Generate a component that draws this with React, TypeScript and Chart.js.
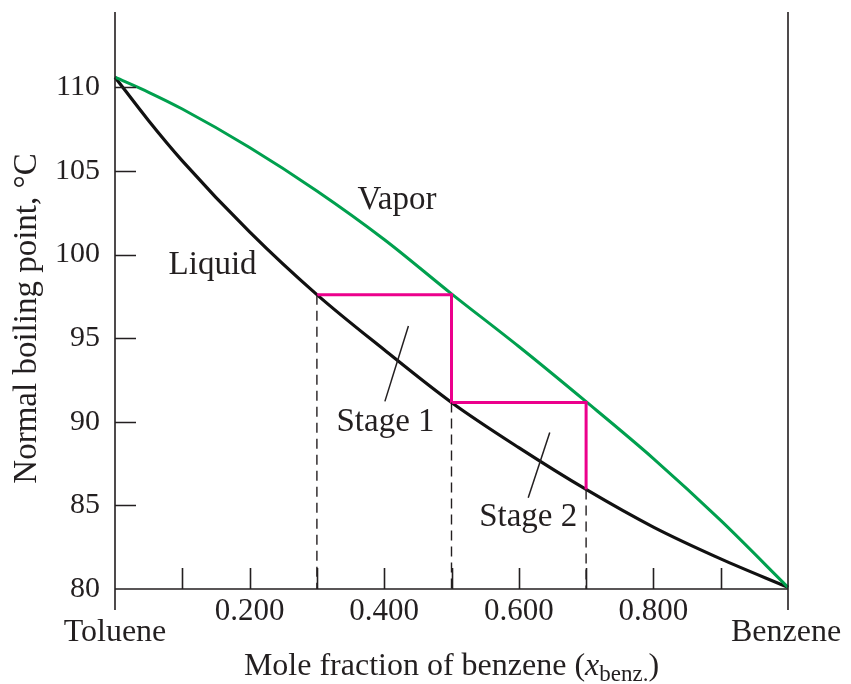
import React, { useEffect, useRef } from "react";
import { Chart, registerables } from "chart.js";

Chart.register(...registerables);

// Mole fraction of benzene (x) and boiling temperatures
const X_FRAC = [0, 0.05, 0.1, 0.2, 0.3, 0.4, 0.5, 0.6, 0.7, 0.8, 0.9, 1.0];
const LIQUID_T = [110.6, 108.0, 105.6, 101.35, 97.6, 94.3, 91.15, 88.45, 85.95, 83.7, 81.8, 80.1];
const VAPOR_T = [110.6, 109.7, 108.7, 106.4, 103.8, 100.9, 97.65, 94.5, 91.2, 87.8, 84.1, 80.1];

// Stage construction (magenta staircase)
const STAGE_X = [0.3, 0.5, 0.5, 0.7, 0.7];
const STAGE_T = [97.6, 97.6, 91.15, 91.15, 85.95];

// Dashed drop lines
const DROP_X = [0.3, 0.5, 0.7];
const DROP_TOP = [97.6, 91.15, 85.95];
const Y_MIN = 80;
const Y_MAX = 114.5;

// Ticks
const Y_TICK_STEP = 5;
const X_MINOR_TICKS = [0.1, 0.2, 0.3, 0.4, 0.5, 0.6, 0.7, 0.8, 0.9];
const X_LABEL_VALUES = [0.2, 0.4, 0.6, 0.8];
const X_LABELS = ["0.200", "0.400", "0.600", "0.800"];
const END_LABELS = ["Toluene", "Benzene"];

// Annotation labels (data coordinates)
const NOTE_TEXT = ["Vapor", "Liquid", "Stage 1", "Stage 2"];
const NOTE_X = [0.419, 0.145, 0.402, 0.614];
const NOTE_T = [102.75, 98.86, 89.45, 83.76];

// Leader lines for stage labels
const LEADER_X1 = [0.436, 0.646];
const LEADER_T1 = [95.72, 89.36];
const LEADER_X2 = [0.401, 0.614];
const LEADER_T2 = [91.22, 85.46];

const INK = "#231f20";
const GREEN = "#00a04e";
const MAGENTA = "#ec008c";
const SERIF = "'Liberation Serif', 'Times New Roman', serif";

const pts = (xs: number[], ys: number[]) => xs.map((x, i) => ({ x, y: ys[i] }));

const annotationPlugin = {
  id: "annotations",
  afterDraw(chart: any) {
    const ctx = chart.ctx as CanvasRenderingContext2D;
    const { left, right, top, bottom } = chart.chartArea;
    const xs = chart.scales.x;
    const ys = chart.scales.y;
    ctx.save();
    ctx.strokeStyle = INK;
    ctx.lineWidth = 1.6;
    // axes
    ctx.beginPath();
    ctx.moveTo(left, top);
    ctx.lineTo(left, bottom + 21);
    ctx.moveTo(right, top);
    ctx.lineTo(right, bottom + 21);
    ctx.moveTo(left, bottom);
    ctx.lineTo(right, bottom);
    ctx.stroke();
    // y ticks inward
    ctx.beginPath();
    for (let v = Y_MIN + Y_TICK_STEP; v <= 110; v += Y_TICK_STEP) {
      const py = Math.round(ys.getPixelForValue(v)) + 0.5;
      ctx.moveTo(left, py);
      ctx.lineTo(left + 21, py);
    }
    // x ticks inward
    X_MINOR_TICKS.forEach((v) => {
      const px = Math.round(xs.getPixelForValue(v)) + 0.5;
      ctx.moveTo(px, bottom);
      ctx.lineTo(px, bottom - 21);
    });
    ctx.stroke();

    ctx.fillStyle = INK;
    ctx.textBaseline = "alphabetic";
    ctx.textAlign = "center";
    ctx.font = `31px ${SERIF}`;
    X_LABEL_VALUES.forEach((v, i) => {
      ctx.fillText(X_LABELS[i], xs.getPixelForValue(v), bottom + 31);
    });
    ctx.font = `32px ${SERIF}`;
    ctx.fillText(END_LABELS[0], xs.getPixelForValue(0), bottom + 52);
    ctx.fillText(END_LABELS[1], xs.getPixelForValue(1) - 2, bottom + 52);

    ctx.font = `33px ${SERIF}`;
    NOTE_TEXT.forEach((t, i) => {
      ctx.fillText(t, xs.getPixelForValue(NOTE_X[i]), ys.getPixelForValue(NOTE_T[i]));
    });

    // x axis title with italic x and subscript
    const part1 = "Mole fraction of benzene (";
    const partX = "x";
    const partSub = "benz.";
    const part3 = ")";
    const fMain = `32px ${SERIF}`;
    const fItal = `italic 32px ${SERIF}`;
    const fSub = `23px ${SERIF}`;
    ctx.font = fMain;
    const w1 = ctx.measureText(part1).width;
    const w3 = ctx.measureText(part3).width;
    ctx.font = fItal;
    const wx = ctx.measureText(partX).width;
    ctx.font = fSub;
    const ws = ctx.measureText(partSub).width;
    const total = w1 + wx + ws + w3;
    let cx = (left + right) / 2 - total / 2;
    const by = bottom + 86;
    ctx.textAlign = "left";
    ctx.font = fMain;
    ctx.fillText(part1, cx, by);
    cx += w1;
    ctx.font = fItal;
    ctx.fillText(partX, cx, by);
    cx += wx;
    ctx.font = fSub;
    ctx.fillText(partSub, cx, by + 6);
    cx += ws;
    ctx.font = fMain;
    ctx.fillText(part3, cx, by);

    // y axis title
    ctx.save();
    ctx.translate(36, (top + bottom) / 2 + 18);
    ctx.rotate(-Math.PI / 2);
    ctx.textAlign = "center";
    ctx.font = `33px ${SERIF}`;
    ctx.fillText("Normal boiling point, \u00B0C", 0, 0);
    ctx.restore();

    ctx.restore();
  },
};

export default function App() {
  const ref = useRef<HTMLCanvasElement | null>(null);
  useEffect(() => {
    if (!ref.current) return;
    const datasets: any[] = [];
    DROP_X.forEach((x, i) => {
      datasets.push({
        data: [
          { x, y: DROP_TOP[i] },
          { x, y: Y_MIN },
        ],
        borderColor: INK,
        borderWidth: 1.4,
        borderDash: [10, 6],
        pointRadius: 0,
        clip: false,
      });
    });
    LEADER_X1.forEach((x, i) => {
      datasets.push({
        data: [
          { x, y: LEADER_T1[i] },
          { x: LEADER_X2[i], y: LEADER_T2[i] },
        ],
        borderColor: INK,
        borderWidth: 1.5,
        pointRadius: 0,
        clip: false,
      });
    });
    datasets.push({
      label: "Stages",
      data: pts(STAGE_X, STAGE_T),
      borderColor: MAGENTA,
      borderWidth: 3,
      pointRadius: 0,
      borderJoinStyle: "miter",
      clip: false,
    });
    datasets.push({
      label: "Vapor",
      data: pts(X_FRAC, VAPOR_T),
      borderColor: GREEN,
      borderWidth: 3,
      pointRadius: 0,
      cubicInterpolationMode: "monotone",
      clip: false,
    });
    datasets.push({
      label: "Liquid",
      data: pts(X_FRAC, LIQUID_T),
      borderColor: "#111111",
      borderWidth: 3.2,
      pointRadius: 0,
      cubicInterpolationMode: "monotone",
      clip: false,
    });

    const chart = new Chart(ref.current, {
      type: "line",
      data: { datasets },
      options: {
        animation: false,
        responsive: false,
        events: [],
        layout: { padding: { top: 12, right: 63, left: 0, bottom: 0 } },
        plugins: { legend: { display: false }, tooltip: { enabled: false }, title: { display: false } },
        scales: {
          x: {
            type: "linear",
            min: 0,
            max: 1,
            grid: { display: false },
            border: { display: false },
            ticks: { display: false },
            afterFit: (s: any) => {
              s.height = 95;
              s.paddingLeft = 0;
              s.paddingRight = 0;
            },
          },
          y: {
            type: "linear",
            min: Y_MIN,
            max: Y_MAX,
            grid: { display: false },
            border: { display: false },
            ticks: {
              stepSize: Y_TICK_STEP,
              includeBounds: false,
              padding: 7,
              color: INK,
              font: { family: SERIF, size: 30 },
            },
            afterFit: (s: any) => {
              s.width = 115;
              s.paddingTop = 0;
              s.paddingBottom = 0;
            },
          },
        },
      },
      plugins: [annotationPlugin],
    });
    return () => chart.destroy();
  }, []);

  return (
    <div style={{ position: "fixed", left: 0, top: 0, width: 851, height: 684, background: "#fff" }}>
      <canvas ref={ref} width={851} height={684} />
    </div>
  );
}
